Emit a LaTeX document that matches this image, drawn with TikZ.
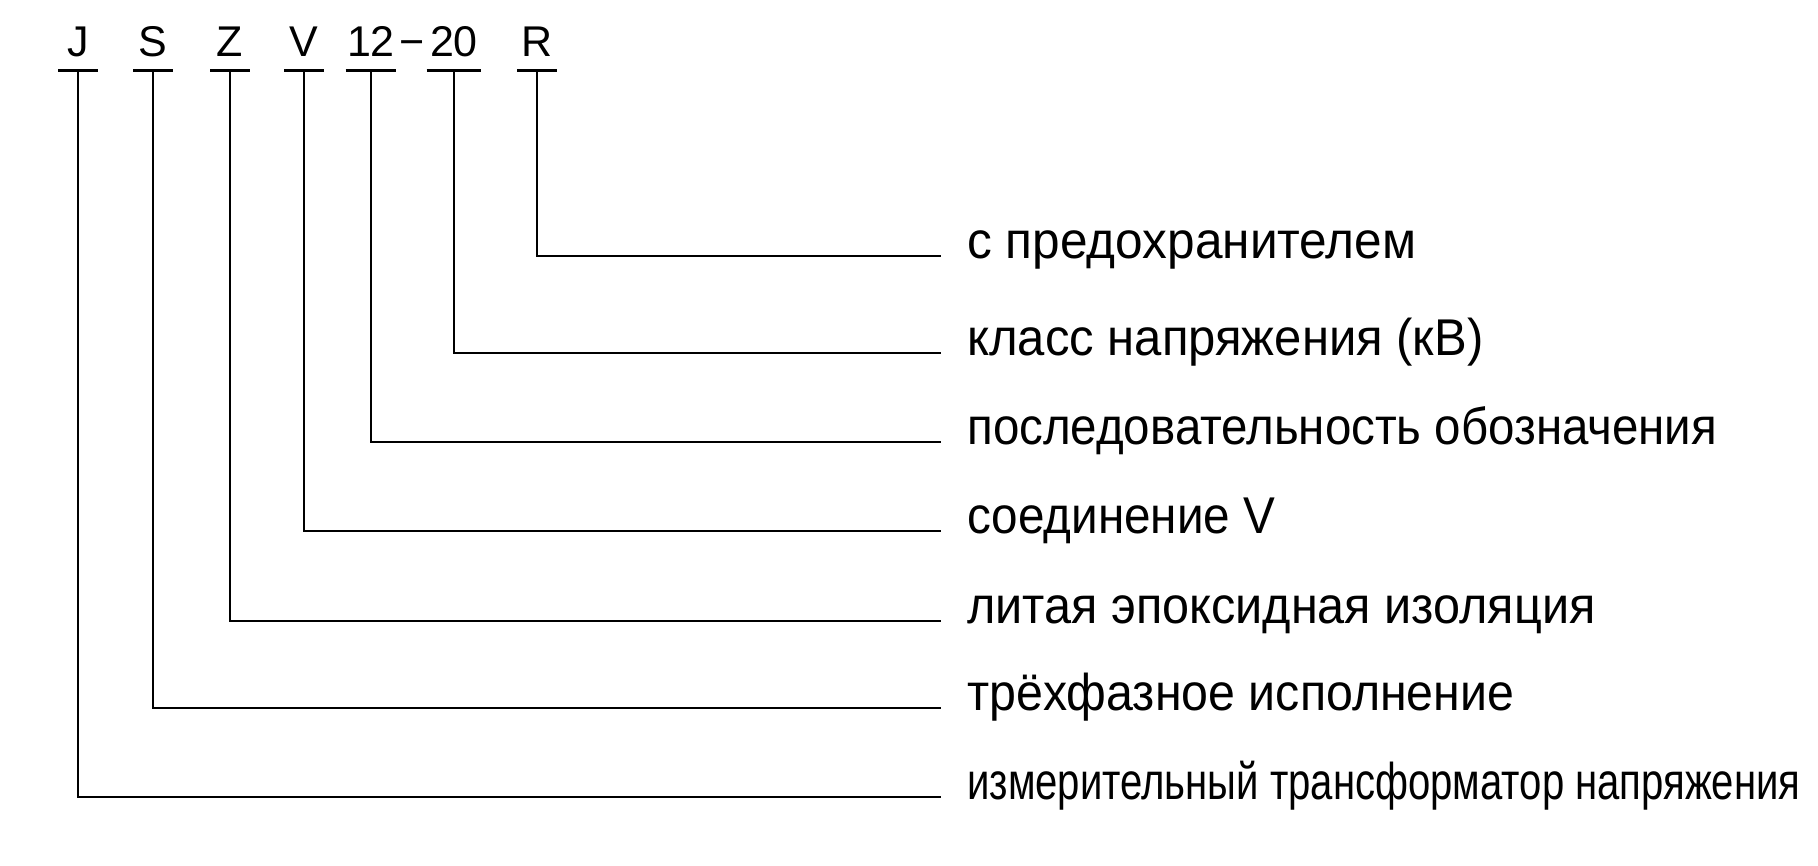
\documentclass[tikz,border=0pt]{standalone}
\usepackage{fontspec}
\setmainfont{Liberation Sans}
\usepackage{graphicx}

\newcommand{\fitw}[2]{\resizebox{#1}{\height}{#2}}

\begin{document}
\begin{tikzpicture}[x=1pt, y=-1pt, line width=2.7pt,
        code/.style={font=\fontsize{43}{43}\selectfont, inner xsep=0pt, inner ysep=13pt, text depth=0pt, minimum width=37pt, anchor=base},
        lbl/.style={font=\fontsize{51.7}{52}\selectfont, inner xsep=25pt, inner ysep=0pt, anchor=mid west}]
        \useasboundingbox (0, 0) rectangle (1818, 865);
        \node[code] (J) at (78, 56) {J}; % measuring transformer
        \node[code] (S) at (153, 56) {S}; % three phase
        \node[code] (Z) at (230, 56) {Z}; % cast resin
        \node[code] (V) at (304, 56) {V}; % V connection
        \node[code] (n12) at (371, 56) {12}; % design number
        \node[code, minimum width=0pt, inner ysep=0pt] (dash) at (412, 56) {−};
        \node[code, minimum width=52pt] (n20) at (454, 56) {20}; % voltage class
        \node[code] (R) at (537, 56) {R}; % fuse
        \node[lbl] (lR) at (941, 256) {\fitw{449pt}{с предохранителем}};
        \node[lbl] (l20) at (941, 353) {\fitw{516pt}{класс напряжения (кВ)}};
        \node[lbl] (l12) at (941, 442) {\fitw{750pt}{последовательность обозначения}};
        \node[lbl] (lV) at (941, 531) {\fitw{308pt}{соединение V}};
        \node[lbl] (lZ) at (941, 621) {\fitw{628pt}{литая эпоксидная изоляция}};
        \node[lbl] (lS) at (941, 708) {\fitw{547pt}{трёхфазное исполнение}};
        \node[lbl] (lJ) at (941, 797) {\fitw{833pt}{измерительный трансформатор напряжения}};
        \foreach \c/\l in {J/lJ, S/lS, Z/lZ, V/lV, n12/l12, n20/l20, R/lR} {
            \draw (\c.south west) -- (\c.south east); % underbar
            \draw (\c.south) |- (\l.mid west); % leader
        }
    \end{tikzpicture}
\end{document}
